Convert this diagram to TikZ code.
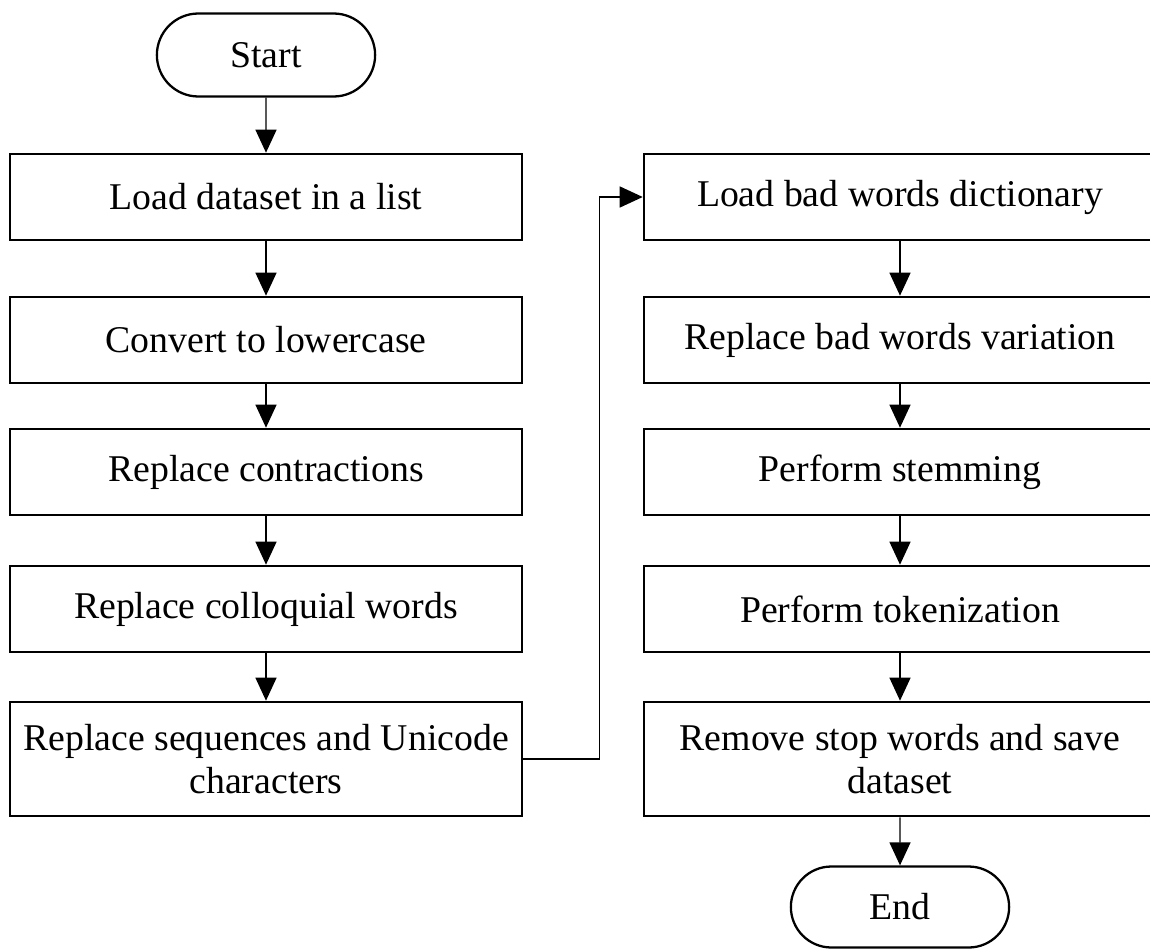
\documentclass[tikz,border=0pt]{standalone}
\usepackage{fontspec}
\setmainfont{Liberation Serif}
\usetikzlibrary{arrows.meta,shapes.misc}

\begin{document}
\begin{tikzpicture}[x=0.02cm, y=-0.02cm, font=\fontsize{21.5}{24}\selectfont, every node/.style={align=center},
  stepbox/.style={draw, line width=1.5pt, minimum width=10.24cm, minimum height=1.72cm, inner sep=2pt},
  terminal/.style={draw, line width=1.3pt, rounded rectangle, minimum width=4.6cm, minimum height=1.66cm},
  arr/.style={-{Triangle[length=0.46cm,width=0.42cm]}, line width=0.75pt}]
  \useasboundingbox (0,0) rectangle (1150,950);
  % left column
  \node[terminal] (start) at (266,55) {Start};
  \node[stepbox] (load) at (266,197) {Load dataset in a list};
  \node[stepbox] (lower) at (266,340) {Convert to lowercase};
  \node[stepbox] (contr) at (266,472) {Replace contractions};
  \node[stepbox] (colloq) at (266,609) {Replace colloquial words};
  \node[stepbox, minimum height=2.28cm] (seq) at (266,759) {Replace sequences and Unicode\\characters};
  % right column
  \node[stepbox] (dict) at (900,197) {Load bad words dictionary};
  \node[stepbox] (vari) at (900,340) {Replace bad words variation};
  \node[stepbox] (stem) at (900,472) {Perform stemming};
  \node[stepbox] (token) at (900,609) {Perform tokenization};
  \node[stepbox, minimum height=2.28cm] (stop) at (900,759) {Remove stop words and save\\dataset};
  \node[terminal, minimum height=1.62cm] (end) at (900,907) {End};
  % connectors
  \draw[arr] (start) -- (load);
  \draw[arr] (load) -- (lower);
  \draw[arr] (lower) -- (contr);
  \draw[arr] (contr) -- (colloq);
  \draw[arr] (colloq) -- (seq);
  \draw[arr] (seq.east) -- ++(76,0) |- (dict.west);
  \draw[arr] (dict) -- (vari);
  \draw[arr] (vari) -- (stem);
  \draw[arr] (stem) -- (token);
  \draw[arr] (token) -- (stop);
  \draw[arr] (stop) -- (end);
\end{tikzpicture}
\end{document}
